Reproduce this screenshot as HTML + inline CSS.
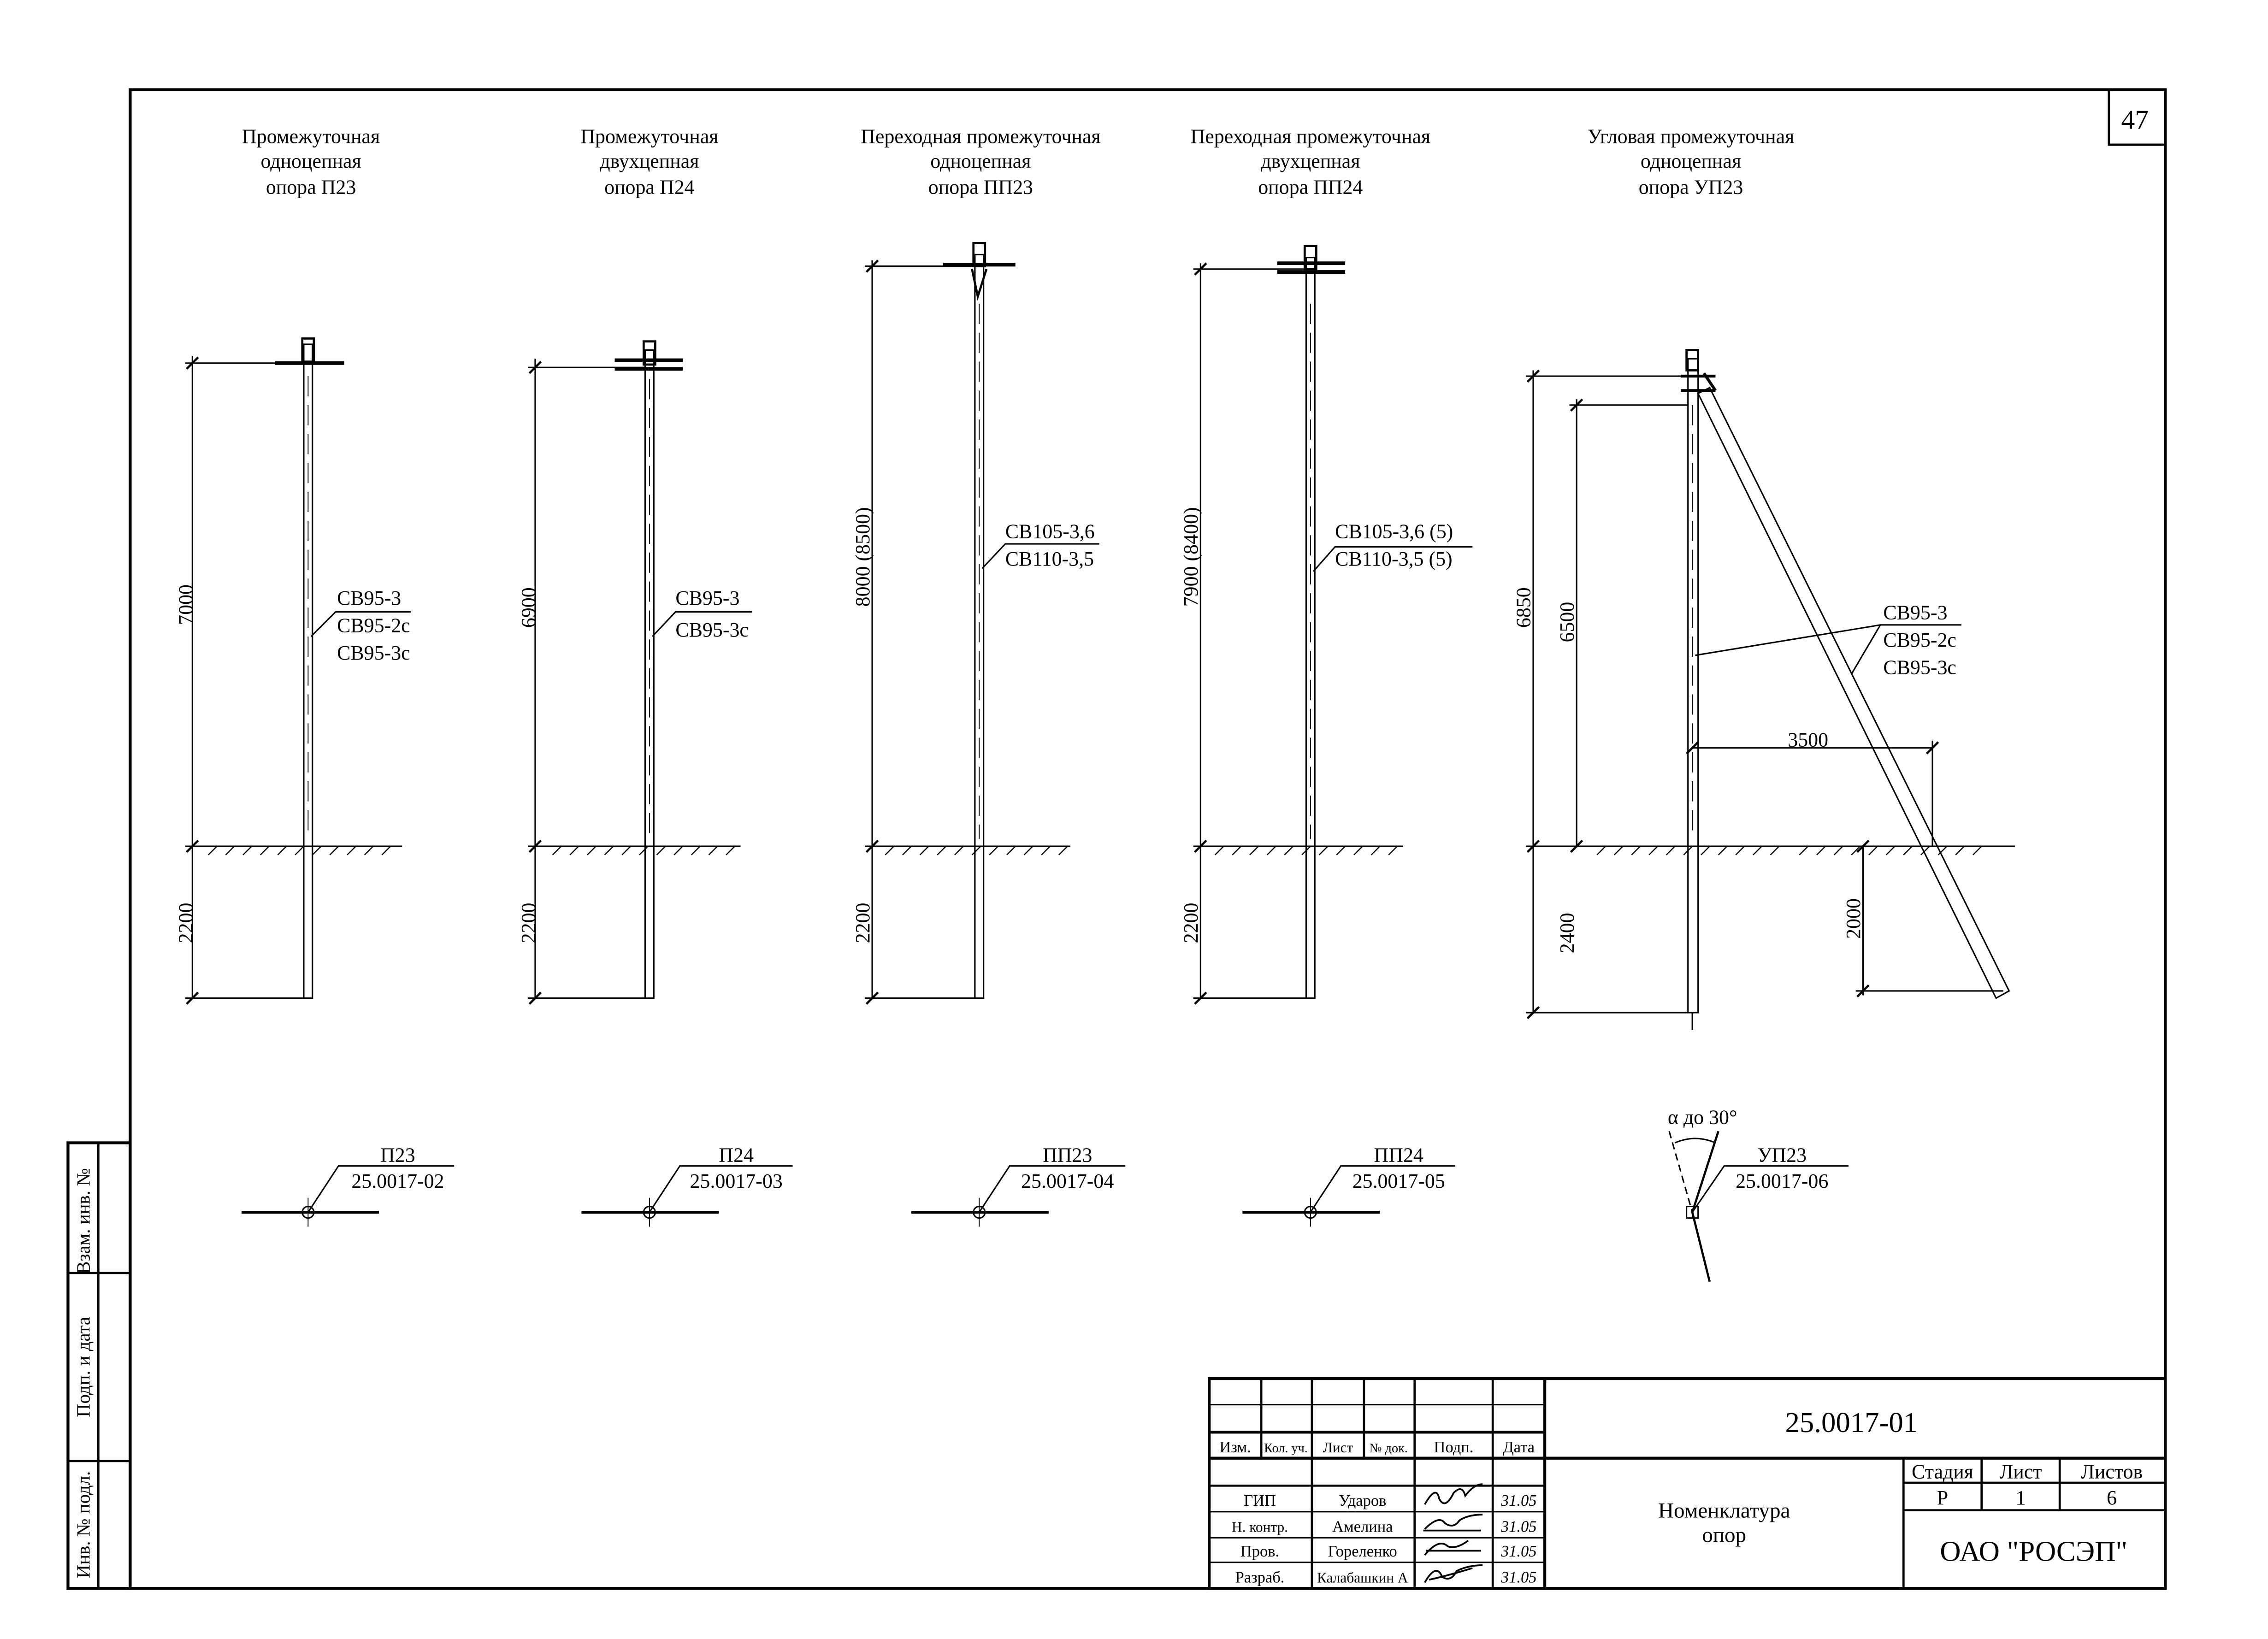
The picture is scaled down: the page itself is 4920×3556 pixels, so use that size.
<!DOCTYPE html>
<html><head><meta charset="utf-8"><style>html,body{margin:0;padding:0;background:#fff}svg{display:block}</style></head><body>
<svg xmlns="http://www.w3.org/2000/svg" width="4920" height="3556" viewBox="0 0 1568 1133" preserveAspectRatio="none" font-family="Liberation Serif, serif" fill="#000">
<defs>
<g id="hatch"><path d="M0,0 l-6,6 M12,0 l-6,6 M24,0 l-6,6 M36,0 l-6,6 M48,0 l-6,6 M60,0 l-6,6 M72,0 l-6,6 M84,0 l-6,6 M96,0 l-6,6 M108,0 l-6,6 M120,0 l-6,6" stroke="#000" stroke-width="0.8"/></g>
</defs>
<rect x="0" y="0" width="1568" height="1133" fill="#fff"/>
<g stroke="#000" fill="none">
<rect x="90" y="62" width="1407" height="1036" stroke-width="2"/>
<rect x="1458" y="62" width="39" height="38" stroke-width="1.5"/>
<rect x="47" y="790" width="43" height="308" stroke-width="2"/>
<line x1="68" y1="790" x2="68" y2="1098" stroke-width="1.5"/>
<line x1="47" y1="880" x2="90" y2="880" stroke-width="1.5"/>
<line x1="47" y1="1010" x2="90" y2="1010" stroke-width="1.5"/>
<rect x="836" y="953" width="661" height="145" stroke-width="2"/>
<line x1="1068" y1="953" x2="1068" y2="1098" stroke-width="2"/>
<line x1="836" y1="971" x2="1068" y2="971" stroke-width="1"/>
<line x1="836" y1="990" x2="1068" y2="990" stroke-width="2"/>
<line x1="836" y1="1008" x2="1497" y2="1008" stroke-width="2"/>
<line x1="836" y1="1027" x2="1068" y2="1027" stroke-width="1.5"/>
<line x1="836" y1="1045" x2="1068" y2="1045" stroke-width="1"/>
<line x1="836" y1="1063" x2="1068" y2="1063" stroke-width="1"/>
<line x1="836" y1="1080" x2="1068" y2="1080" stroke-width="1"/>
<line x1="872" y1="953" x2="872" y2="1008" stroke-width="1.5"/>
<line x1="907" y1="953" x2="907" y2="1098" stroke-width="1.5"/>
<line x1="943" y1="953" x2="943" y2="1008" stroke-width="1.5"/>
<line x1="978" y1="953" x2="978" y2="1098" stroke-width="1.5"/>
<line x1="1032" y1="953" x2="1032" y2="1098" stroke-width="1.5"/>
<line x1="1316" y1="1008" x2="1316" y2="1098" stroke-width="1.5"/>
<line x1="1316" y1="1025" x2="1497" y2="1025" stroke-width="1.5"/>
<line x1="1316" y1="1044" x2="1497" y2="1044" stroke-width="1.5"/>
<line x1="1370" y1="1008" x2="1370" y2="1044" stroke-width="1.5"/>
<line x1="1424" y1="1008" x2="1424" y2="1044" stroke-width="1.5"/>
</g>
<text x="1476" y="89" font-size="19" text-anchor="middle">47</text>
<g font-size="13" text-anchor="middle">
<text transform="translate(62,844) rotate(-90)">Взам. инв. №</text>
<text transform="translate(62,945) rotate(-90)">Подп. и дата</text>
<text transform="translate(62,1054) rotate(-90)">Инв. № подл.</text>
</g>
<g font-size="11" text-anchor="middle">
<text x="854" y="1004">Изм.</text>
<text x="889" y="1004" font-size="9">Кол. уч.</text>
<text x="925" y="1004" font-size="10">Лист</text>
<text x="960" y="1004" font-size="9">№ док.</text>
<text x="1005" y="1004">Подп.</text>
<text x="1050" y="1004">Дата</text>
<text x="871" y="1041">ГИП</text>
<text x="942" y="1041">Ударов</text>
<text x="871" y="1059" font-size="10">Н. контр.</text>
<text x="942" y="1059">Амелина</text>
<text x="871" y="1076">Пров.</text>
<text x="942" y="1076">Гореленко</text>
<text x="871" y="1094">Разраб.</text>
<text x="942" y="1094" font-size="10">Калабашкин А</text>
<text x="1050" y="1041" font-style="italic">31.05</text>
<text x="1050" y="1059" font-style="italic">31.05</text>
<text x="1050" y="1076" font-style="italic">31.05</text>
<text x="1050" y="1094" font-style="italic">31.05</text>
</g>
<g stroke="#000" fill="none" stroke-width="1.2">
<path d="M985,1040 q8,-14 10,-4 q4,8 10,-4 q6,-6 8,2 q6,-8 12,-8"/>
<path d="M985,1057 q10,-10 14,-4 q6,4 10,-2 q6,-4 16,-4 M984,1058 h40"/>
<path d="M985,1075 q10,-12 16,-6 q6,2 14,-4 M986,1072 h38"/>
<path d="M985,1094 q8,-14 12,-4 q6,4 10,-4 q8,-4 18,-4 M988,1092 q10,-2 30,-8"/>
</g>
<text x="1280" y="990" font-size="20" text-anchor="middle">25.0017-01</text>
<text x="1192" y="1049" font-size="15" text-anchor="middle">Номенклатура</text>
<text x="1192" y="1066" font-size="15" text-anchor="middle">опор</text>
<g font-size="14" text-anchor="middle">
<text x="1343" y="1022">Стадия</text><text x="1397" y="1022">Лист</text><text x="1460" y="1022">Листов</text>
<text x="1343" y="1040">Р</text><text x="1397" y="1040">1</text><text x="1460" y="1040">6</text>
</g>
<text x="1406" y="1079" font-size="20" text-anchor="middle">ОАО "РОСЭП"</text>

<g font-size="14" text-anchor="middle">
<text x="215" y="99">Промежуточная</text><text x="215" y="116">одноцепная</text><text x="215" y="134">опора П23</text>
<text x="449" y="99">Промежуточная</text><text x="449" y="116">двухцепная</text><text x="449" y="134">опора П24</text>
<text x="678" y="99">Переходная промежуточная</text><text x="678" y="116">одноцепная</text><text x="678" y="134">опора ПП23</text>
<text x="906" y="99">Переходная промежуточная</text><text x="906" y="116">двухцепная</text><text x="906" y="134">опора ПП24</text>
<text x="1169" y="99">Угловая промежуточная</text><text x="1169" y="116">одноцепная</text><text x="1169" y="134">опора УП23</text>
</g>

<g stroke="#000" fill="none" stroke-width="1">
<rect x="210" y="238" width="6" height="452"/>
<line x1="213" y1="260" x2="213" y2="580" stroke-dasharray="14,6" stroke-width="0.6"/>
<line x1="190" y1="251" x2="238" y2="251" stroke-width="2.5"/>
<rect x="209" y="234" width="8" height="16" stroke-width="1.5"/>
<line x1="133" y1="246" x2="133" y2="690"/>
<line x1="128" y1="251" x2="210" y2="251"/><line x1="128" y1="585" x2="278" y2="585"/><line x1="128" y1="690" x2="210" y2="690"/>
<path d="M129,255 l8,-8 M129,589 l8,-8 M129,694 l8,-8" stroke-width="1.5"/>
<use href="#hatch" x="150" y="585"/>
<path d="M215,440 L232,423 H284"/>
<rect x="446" y="242" width="6" height="448"/>
<line x1="449" y1="262" x2="449" y2="580" stroke-dasharray="14,6" stroke-width="0.6"/>
<line x1="425" y1="249" x2="472" y2="249" stroke-width="2.5"/><line x1="425" y1="255" x2="472" y2="255" stroke-width="2.5"/>
<rect x="445" y="236" width="8" height="16" stroke-width="1.5"/>
<line x1="370" y1="248" x2="370" y2="690"/>
<line x1="365" y1="254" x2="446" y2="254"/><line x1="365" y1="585" x2="512" y2="585"/><line x1="365" y1="690" x2="446" y2="690"/>
<path d="M366,258 l8,-8 M366,589 l8,-8 M366,694 l8,-8" stroke-width="1.5"/>
<use href="#hatch" x="388" y="585"/>
<path d="M451,440 L467,423 H520"/>
<rect x="674" y="176" width="6" height="514"/>
<line x1="677" y1="210" x2="677" y2="580" stroke-dasharray="14,6" stroke-width="0.6"/>
<line x1="652" y1="183" x2="702" y2="183" stroke-width="2.5"/>
<rect x="673" y="168" width="8" height="16" stroke-width="1.5"/>
<path d="M672,186 L676,205 L682,186" stroke-width="1.5"/>
<line x1="603" y1="180" x2="603" y2="690"/>
<line x1="598" y1="184" x2="674" y2="184"/><line x1="598" y1="585" x2="740" y2="585"/><line x1="598" y1="690" x2="674" y2="690"/>
<path d="M599,188 l8,-8 M599,589 l8,-8 M599,694 l8,-8" stroke-width="1.5"/>
<use href="#hatch" x="618" y="585"/>
<path d="M679,393 L695,376 H760"/>
<rect x="903" y="178" width="6" height="512"/>
<line x1="906" y1="210" x2="906" y2="580" stroke-dasharray="14,6" stroke-width="0.6"/>
<line x1="883" y1="182" x2="930" y2="182" stroke-width="2.5"/><line x1="883" y1="188" x2="930" y2="188" stroke-width="2.5"/>
<rect x="902" y="170" width="8" height="16" stroke-width="1.5"/>
<line x1="830" y1="182" x2="830" y2="690"/>
<line x1="825" y1="186" x2="903" y2="186"/><line x1="825" y1="585" x2="970" y2="585"/><line x1="825" y1="690" x2="903" y2="690"/>
<path d="M826,190 l8,-8 M826,589 l8,-8 M826,694 l8,-8" stroke-width="1.5"/>
<use href="#hatch" x="846" y="585"/>
<path d="M908,395 L923,378 H1018"/>
<rect x="1167" y="248" width="7" height="452"/>
<line x1="1170" y1="280" x2="1170" y2="580" stroke-dasharray="14,6" stroke-width="0.6"/>
<line x1="1170" y1="700" x2="1170" y2="712"/>
<rect x="1166" y="242" width="8" height="14" stroke-width="1.5"/>
<path d="M1162,260 h24 M1162,270 h24 M1178,258 l8,12" stroke-width="2"/>
<path d="M1174,272 L1380,690 L1389,685 L1182,268 Z"/>
<line x1="1060" y1="256" x2="1060" y2="700"/>
<line x1="1055" y1="260" x2="1167" y2="260"/><line x1="1055" y1="700" x2="1167" y2="700"/>
<line x1="1090" y1="276" x2="1090" y2="585"/>
<line x1="1085" y1="280" x2="1167" y2="280"/>
<line x1="1055" y1="585" x2="1393" y2="585"/>
<path d="M1056,264 l8,-8 M1056,589 l8,-8 M1056,704 l8,-8 M1086,284 l8,-8 M1086,589 l8,-8" stroke-width="1.5"/>
<use href="#hatch" x="1110" y="585"/>
<use href="#hatch" x="1250" y="585"/>
<path d="M1172,453 L1300,432 H1356 M1280,466 L1300,432"/>
<line x1="1170" y1="517" x2="1336" y2="517"/>
<line x1="1336" y1="512" x2="1336" y2="585"/>
<path d="M1166,521 l8,-8 M1332,521 l8,-8" stroke-width="1.5"/>
<line x1="1288" y1="585" x2="1288" y2="688"/>
<line x1="1283" y1="685" x2="1385" y2="685"/>
<path d="M1284,589 l8,-8 M1284,689 l8,-8" stroke-width="1.5"/>
<line x1="167" y1="838" x2="262" y2="838" stroke-width="2"/><circle cx="213" cy="838" r="4"/><line x1="213" y1="828" x2="213" y2="848" stroke-width="0.6"/>
<path d="M213,838 L234,806 H314"/>
<line x1="402" y1="838" x2="497" y2="838" stroke-width="2"/><circle cx="449" cy="838" r="4"/><line x1="449" y1="828" x2="449" y2="848" stroke-width="0.6"/>
<path d="M449,838 L470,806 H548"/>
<line x1="630" y1="838" x2="725" y2="838" stroke-width="2"/><circle cx="677" cy="838" r="4"/><line x1="677" y1="828" x2="677" y2="848" stroke-width="0.6"/>
<path d="M677,838 L698,806 H778"/>
<line x1="859" y1="838" x2="954" y2="838" stroke-width="2"/><circle cx="906" cy="838" r="4"/><line x1="906" y1="828" x2="906" y2="848" stroke-width="0.6"/>
<path d="M906,838 L927,806 H1006"/>
<path d="M1154,782 L1170,838" stroke-dasharray="5,3"/>
<path d="M1188,782 L1170,838 L1182,886" stroke-width="1.5"/>
<path d="M1158,790 Q1172,784 1186,790"/>
<rect x="1166" y="834" width="8" height="8"/>
<path d="M1170,838 L1192,806 H1278"/>
</g>
<g font-size="14">
<text x="233" y="418">СВ95-3</text><text x="233" y="437">СВ95-2с</text><text x="233" y="456">СВ95-3с</text>
<text x="467" y="418">СВ95-3</text><text x="467" y="440">СВ95-3с</text>
<text x="695" y="372">СВ105-3,6</text><text x="695" y="391">СВ110-3,5</text>
<text x="923" y="372">СВ105-3,6 (5)</text><text x="923" y="391">СВ110-3,5 (5)</text>
<text x="1302" y="428">СВ95-3</text><text x="1302" y="447">СВ95-2с</text><text x="1302" y="466">СВ95-3с</text>
<text x="1236" y="516">3500</text>
<text x="1153" y="777">α до 30°</text>
</g>
<g font-size="14" text-anchor="middle">
<text x="275" y="803">П23</text><text x="275" y="821">25.0017-02</text>
<text x="509" y="803">П24</text><text x="509" y="821">25.0017-03</text>
<text x="738" y="803">ПП23</text><text x="738" y="821">25.0017-04</text>
<text x="967" y="803">ПП24</text><text x="967" y="821">25.0017-05</text>
<text x="1232" y="803">УП23</text><text x="1232" y="821">25.0017-06</text>
</g>
<g font-size="14" text-anchor="middle">
<text transform="translate(133,418) rotate(-90)">7000</text>
<text transform="translate(133,638) rotate(-90)">2200</text>
<text transform="translate(370,420) rotate(-90)">6900</text>
<text transform="translate(370,638) rotate(-90)">2200</text>
<text transform="translate(601,385) rotate(-90)">8000 (8500)</text>
<text transform="translate(601,638) rotate(-90)">2200</text>
<text transform="translate(828,385) rotate(-90)">7900 (8400)</text>
<text transform="translate(828,638) rotate(-90)">2200</text>
<text transform="translate(1058,420) rotate(-90)">6850</text>
<text transform="translate(1088,430) rotate(-90)">6500</text>
<text transform="translate(1088,645) rotate(-90)">2400</text>
<text transform="translate(1286,635) rotate(-90)">2000</text>
</g>
</svg>
</body></html>
